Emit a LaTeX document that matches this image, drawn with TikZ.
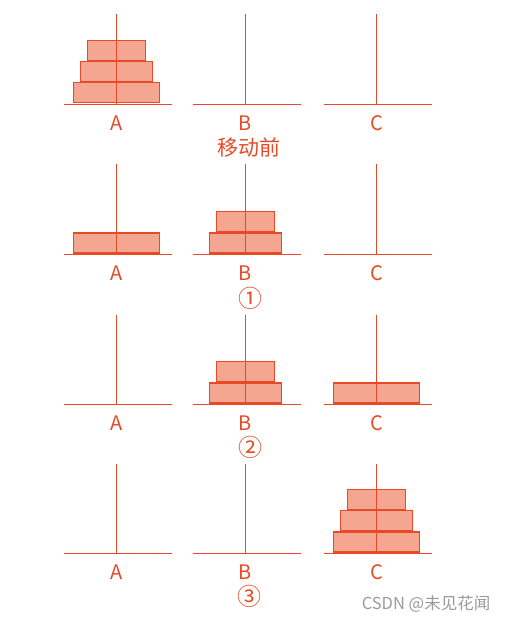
\documentclass[tikz,border=0pt]{standalone}
\usepackage{fontspec}
\setmainfont{Noto Sans CJK SC}
\definecolor{hred}{HTML}{E84A27}
\definecolor{hfill}{HTML}{F4A690}
\definecolor{wmgray}{HTML}{9A9A9A}
\begin{document}
\begin{tikzpicture}[x=1pt,y=-1pt,
  poleline/.style={draw=hred,line width=1.1pt},
  baseln/.style={draw=hred,line width=1.2pt},
  disc/.style={draw=hred,fill=hfill,line width=1.1pt,rectangle,inner sep=0pt,minimum height=20pt,anchor=south},
  large/.style={disc,minimum width=86pt},
  middle/.style={disc,minimum width=72pt},
  small/.style={disc,minimum width=58pt},
  lbl/.style={text=hred,font=\fontsize{20}{24}\selectfont,inner sep=0pt},
  capt/.style={text=hred,font=\fontsize{21}{25}\selectfont,inner sep=0pt},
  circ/.style={text=hred,font=\fontsize{24}{28}\selectfont,inner sep=0pt},
  wmark/.style={text=wmgray,font=\fontsize{16.5}{20}\selectfont,inner sep=0pt},
]
\useasboundingbox (0,0) rectangle (505,620);
% base centres of the pegs
\foreach \r/\by in {0/104.5,1/254.5,2/404.5,3/553.5}{
  \foreach \p/\px in {A/116.5,B/245.5,C/376.5}{
    \coordinate (base-\r-\p) at (\px,\by);
    \coordinate (top-\r-\p) at (\px,\by-90);
    \coordinate (bl-\r-\p) at (\px-53,\by);
    \coordinate (br-\r-\p) at (\px+55,\by);
    \coordinate (d-\r-\p) at (\px,\by-1);
    \draw[baseln] (bl-\r-\p) -- (br-\r-\p);
    \node[lbl] (lbl-\r-\p) at (\px,\by+18.5) {\p};
  }
}
% discs
% row 0: all on A
\node[large]  (d0l) at (d-0-A) {};
\node[middle] (d0m) at (d0l.north) {};
\node[small]  (d0s) at (d0m.north) {};
% row 1
\node[large]  (d1l) at (d-1-A) {};
\node[middle] (d1m) at (d-1-B) {};
\node[small]  (d1s) at (d1m.north) {};
% row 2
\node[middle] (d2m) at (d-2-B) {};
\node[small]  (d2s) at (d2m.north) {};
\node[large]  (d2l) at (d-2-C) {};
% row 3: all on C
\node[large]  (d3l) at (d-3-C) {};
\node[middle] (d3m) at (d3l.north) {};
\node[small]  (d3s) at (d3m.north) {};
% poles on top
\foreach \r in {0,1,2,3}{
  \foreach \p in {A,B,C}{
    \draw[poleline] (top-\r-\p) -- (base-\r-\p);
  }
}
% captions
\node[capt] (cap0) at (249,148) {移动前};
\node[circ] (cap1) at (250,298) {①};
\node[circ] (cap2) at (250,447.5) {②};
\node[circ] (cap3) at (249.5,596) {③};
% watermark
\node[wmark] (wm) at (426,604) {CSDN @未见花闻};
\end{tikzpicture}
\end{document}
